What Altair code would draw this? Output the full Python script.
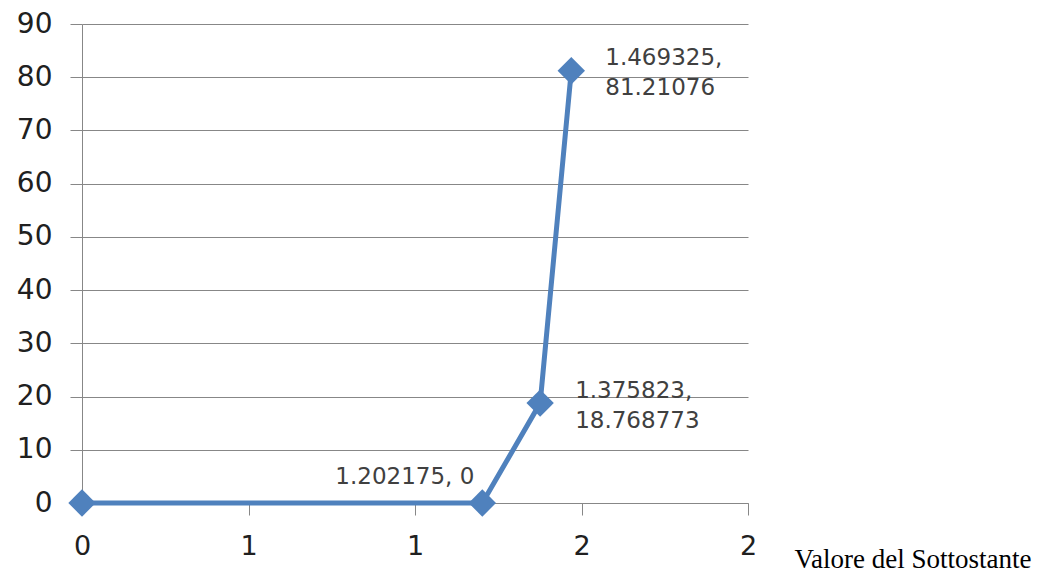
import altair as alt
import pandas as pd

x_vals = [0.0, 1.202175, 1.375823, 1.469325]
y_vals = [0.0, 0.0, 18.768773, 81.21076]
labels = ["", "1.202175, 0", "1.375823,\n18.768773", "1.469325,\n81.21076"]
x_ticks = [0, 0.5, 1, 1.5, 2]
y_ticks = [0, 10, 20, 30, 40, 50, 60, 70, 80, 90]

df = pd.DataFrame({"x": x_vals, "y": y_vals, "label": labels, "i": list(range(len(x_vals)))})

BLUE = "#4F81BD"
GRID = "#878787"
TXT = "#404040"

xenc = alt.X("x:Q", scale=alt.Scale(domain=[0, 2], nice=False, zero=False),
             axis=alt.Axis(values=x_ticks, format=".0f", grid=False, domainColor=GRID,
                           tickColor=GRID, tickSize=12, labelFontSize=27, labelColor="#202020",
                           labelFont="DejaVu Sans", labelPadding=18, labelFlush=False, labelBound=False,
                           labelOverlap=False,
                           title="Valore del Sottostante", titleFont="Liberation Serif",
                           titleFontSize=27, titleFontWeight="normal", titleColor="#000000",
                           titleAnchor="start", titleAlign="left", titleBaseline="bottom",
                           titleX=712, titleY=70))
yenc = alt.Y("y:Q", scale=alt.Scale(domain=[0, 90], nice=False),
             axis=alt.Axis(values=y_ticks, grid=True, gridColor=GRID, domainColor=GRID,
                           tickColor=GRID, tickSize=12, labelFontSize=28, labelColor="#202020",
                           labelFont="DejaVu Sans", labelPadding=18, labelFlush=False,
                           labelOverlap=False, title=None))

base = alt.Chart(df)
line = base.mark_line(color=BLUE, strokeWidth=5).encode(x=xenc, y=yenc)
pts = base.mark_point(shape="diamond", filled=True, opacity=1, color=BLUE, size=750).encode(x="x:Q", y="y:Q")

tstyle = dict(fontSize=23, font="DejaVu Sans", color=TXT, lineHeight=30, baseline="middle")
t1 = base.transform_filter("datum.i == 1").mark_text(align="right", dx=-8, dy=-26, **tstyle).encode(
    x="x:Q", y="y:Q", text="label:N")
t2 = base.transform_filter("datum.i == 2").mark_text(align="left", dx=35, dy=-12, lineBreak="\n", **tstyle).encode(
    x="x:Q", y="y:Q", text="label:N")
t3 = base.transform_filter("datum.i == 3").mark_text(align="left", dx=34, dy=-13, lineBreak="\n", **tstyle).encode(
    x="x:Q", y="y:Q", text="label:N")

chart = alt.layer(line, pts, t1, t2, t3).properties(
    width=666, height=479,
    autosize=alt.AutoSizeParams(type="none"),
    padding={"left": 82, "top": 24, "right": 309, "bottom": 71},
    background="white",
).configure_view(stroke=None)

chart.save("out.html", embed_options={"renderer": "svg", "actions": False})
